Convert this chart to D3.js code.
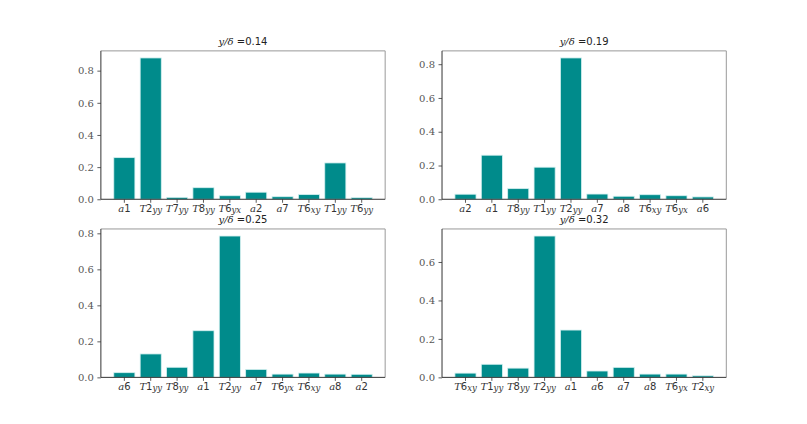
<!DOCTYPE html>
<html>
<head>
<meta charset="utf-8">
<script src="https://cdn.jsdelivr.net/npm/d3@7/dist/d3.min.js"></script>
<style>
  body { margin: 0; background: #fff; }
  svg { display: block; }
</style>
</head>
<body>
<div id="chart"></div>
<script>
// y/delta value shown in each panel title
const titles = ["0.14", "0.19", "0.25", "0.32"]

// categories per panel (letter, digit, subscript)
const cats1 = ["a1", "T2yy", "T7yy", "T8yy", "T6yx", "a2", "a7", "T6xy", "T1yy", "T6yy"]
const cats2 = ["a2", "a1", "T8yy", "T1yy", "T2yy", "a7", "a8", "T6xy", "T6yx", "a6"]
const cats3 = ["a6", "T1yy", "T8yy", "a1", "T2yy", "a7", "T6yx", "T6xy", "a8", "a2"]
const cats4 = ["T6xy", "T1yy", "T8yy", "T2yy", "a1", "a6", "a7", "a8", "T6yx", "T2xy"]

// bar heights
const vals1 = [0.259, 0.879, 0.012, 0.072, 0.022, 0.044, 0.016, 0.029, 0.226, 0.010]
const vals2 = [0.030, 0.261, 0.063, 0.190, 0.837, 0.031, 0.018, 0.027, 0.021, 0.014]
const vals3 = [0.026, 0.130, 0.056, 0.259, 0.785, 0.044, 0.018, 0.024, 0.018, 0.017]
const vals4 = [0.022, 0.068, 0.048, 0.735, 0.246, 0.033, 0.052, 0.017, 0.017, 0.008]

const panels = [
  { title: titles[0], cats: cats1, vals: vals1 },
  { title: titles[1], cats: cats2, vals: vals2 },
  { title: titles[2], cats: cats3, vals: vals3 },
  { title: titles[3], cats: cats4, vals: vals4 }
]

const W = 807, H = 424
// matplotlib-ish subplot params
const LEFT = 0.125 * W, RIGHT = 0.9 * W, TOP = 0.12 * H, BOTTOM = 0.89 * H
const axW = (RIGHT - LEFT) / 2.2, axH = (BOTTOM - TOP) / 2.2
const gapW = axW * 0.2, gapH = axH * 0.2

const BAR = "#008b8b"
const serif = "'DejaVu Serif', 'Liberation Serif', serif"
const sans = "'DejaVu Sans', sans-serif"

const svg = d3.select("#chart").append("svg")
  .attr("width", W).attr("height", H)

// draw a label like "T2yy" as mathtext: italic letter, upright digit, italic subscript
function mathLabel(sel, s) {
  const m = s.match(/^([A-Za-z])(\d+)([a-z]*)$/)
  sel.append("tspan").attr("font-family", serif).attr("font-style", "italic").text(m[1])
  sel.append("tspan").attr("font-family", sans).text(m[2])
  if (m[3]) {
    sel.append("tspan").attr("font-family", serif).attr("font-style", "italic")
      .attr("font-size", "8.5px").attr("dy", 1).text(m[3])
  }
}

panels.forEach((p, i) => {
  const col = i % 2, row = Math.floor(i / 2)
  const x0 = LEFT + col * (axW + gapW)
  const y0 = TOP + row * (axH + gapH)

  const g = svg.append("g").attr("transform", `translate(${x0},${y0})`)

  const x = d3.scaleBand()
    .domain(p.cats)
    .range([0, axW])
    .paddingInner(0.2)
    .paddingOuter(0.49)

  const y = d3.scaleLinear()
    .domain([0, d3.max(p.vals) * 1.05])
    .range([axH, 0])

  // bars
  g.selectAll("rect.bar")
    .data(p.vals)
    .join("rect")
      .attr("class", "bar")
      .attr("x", (d, k) => x(p.cats[k]))
      .attr("width", x.bandwidth())
      .attr("y", d => y(d))
      .attr("height", d => axH - y(d))
      .attr("fill", BAR)
      .attr("stroke", "#d4f0f0")
      .attr("stroke-width", 0.8)

  // y axis
  const yAxis = g.append("g")
    .call(d3.axisLeft(y).ticks(5).tickFormat(d3.format(".1f")).tickSize(3.5).tickPadding(3.5))
  yAxis.select(".domain").remove()
  yAxis.selectAll("line").attr("stroke", "#333").attr("stroke-width", 0.8)
  yAxis.selectAll("text")
    .attr("font-family", serif).attr("font-size", "10px").attr("fill", "#555")

  // x axis
  const xAxis = g.append("g").attr("transform", `translate(0,${axH})`)
    .call(d3.axisBottom(x).tickSize(3.5).tickPadding(3.5).tickFormat(""))
  xAxis.select(".domain").remove()
  xAxis.selectAll("line").attr("stroke", "#333").attr("stroke-width", 0.8)
  xAxis.selectAll(".tick text").remove()
  xAxis.selectAll(".tick").append("text")
    .attr("y", 13)
    .attr("text-anchor", "middle")
    .attr("font-size", "10px")
    .attr("fill", "#333")
    .each(function (d) { mathLabel(d3.select(this), d) })

  // spines
  g.append("line").attr("x1", 0).attr("x2", axW).attr("y1", 0).attr("y2", 0)
    .attr("stroke", "#999").attr("stroke-width", 1)
  g.append("line").attr("x1", axW).attr("x2", axW).attr("y1", 0).attr("y2", axH)
    .attr("stroke", "#999").attr("stroke-width", 1)
  g.append("line").attr("x1", 0).attr("x2", 0).attr("y1", 0).attr("y2", axH)
    .attr("stroke", "#333").attr("stroke-width", 1)
  g.append("line").attr("x1", 0).attr("x2", axW).attr("y1", axH).attr("y2", axH)
    .attr("stroke", "#333").attr("stroke-width", 1)

  // title
  const t = g.append("text")
    .attr("x", axW / 2).attr("y", -5.5)
    .attr("text-anchor", "middle")
    .attr("font-size", "10px")
    .attr("fill", "#222")
  t.append("tspan").attr("font-family", serif).attr("font-style", "italic").text("y/δ")
  t.append("tspan").attr("font-family", sans).text(" =" + p.title)
})
</script>
</body>
</html>
